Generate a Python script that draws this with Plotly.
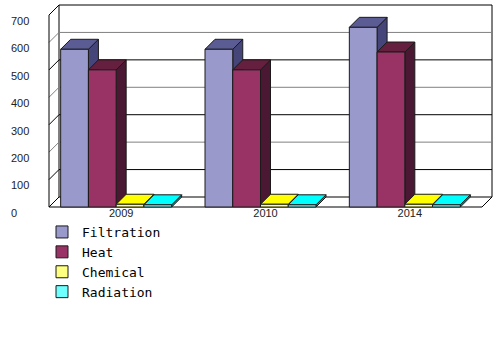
import plotly.graph_objects as go

# ---- data ----
years = ["2009", "2010", "2014"]
series_names = ["Filtration", "Heat", "Chemical", "Radiation"]
filtration = [575, 575, 655]
heat = [500, 500, 565]
chemical = [10, 10, 10]
radiation = [8, 8, 8]
y_ticks = [0, 100, 200, 300, 400, 500, 600, 700]

values = [filtration, heat, chemical, radiation]
front_colors = ["#9999cc", "#993366", "#ffff80", "#70ffff"]
top_colors = ["#5c5c94", "#66203f", "#ffff00", "#00ffff"]
side_colors = ["#45457a", "#4a1832", "#9a9a00", "#009a9a"]
edge = "#1a1a1a"

# ---- geometry (pixel mapping) ----
W, H = 500, 344
x0_px, x3_px = 49, 482          # front floor line left/right
y0_px = 207                      # front value 0
K = (x3_px - x0_px) / len(years)  # px per category
S = 192 / 700                    # px per value unit
dx = 10 / K                      # depth offset (x, category units)
dy = 10 / S                      # depth offset (y, value units)
ymax = max(y_ticks)
n = len(years)

xr = [-x0_px / K, (W - x0_px) / K]
yr = [(y0_px - H) / S, y0_px / S]

fig = go.Figure()

# frame (walls, floor, gridlines)
shapes = []
line_blk = dict(color="#000000", width=1)
shapes.append(dict(type="rect", xref="x", yref="y", x0=dx, x1=n + dx, y0=dy, y1=ymax + dy,
                   line=line_blk, fillcolor="white", layer="below"))
for k, v in enumerate(y_ticks[1:-1]):
    col = "#000000" if k % 2 == 0 else "#808080"
    shapes.append(dict(type="line", xref="x", yref="y", x0=dx, x1=n + dx, y0=v + dy, y1=v + dy,
                       line=dict(color=col, width=1), layer="below"))
    shapes.append(dict(type="line", xref="x", yref="y", x0=0, x1=dx, y0=v, y1=v + dy,
                       line=dict(color=col, width=1), layer="below"))
shapes.append(dict(type="line", xref="x", yref="y", x0=0, x1=0, y0=0, y1=ymax, line=line_blk, layer="below"))
shapes.append(dict(type="line", xref="x", yref="y", x0=0, x1=dx, y0=ymax, y1=ymax + dy, line=line_blk, layer="below"))
shapes.append(dict(type="line", xref="x", yref="y", x0=0, x1=dx, y0=0, y1=dy, line=line_blk, layer="below"))
shapes.append(dict(type="line", xref="x", yref="y", x0=0, x1=n, y0=0, y1=0, line=line_blk, layer="below"))
shapes.append(dict(type="line", xref="x", yref="y", x0=n, x1=n + dx, y0=0, y1=dy, line=line_blk, layer="below"))

# bars
nser = len(series_names)
group_w = 0.769
bw = group_w / nser
centers = [i + 0.5 - dx / 2 for i in range(n)]

for j, (name, vals) in enumerate(zip(series_names, values)):
    for i, v in enumerate(vals):
        xl = centers[i] - group_w / 2 + j * bw
        xrr = xl + bw
        # side face
        fig.add_trace(go.Scatter(
            x=[xrr, xrr, xrr + dx, xrr + dx, xrr], y=[0, v, v + dy, dy, 0],
            mode="lines", fill="toself", fillcolor=side_colors[j],
            line=dict(color=edge, width=1), showlegend=False, hoverinfo="skip", zorder=2 * j))
        # top face
        fig.add_trace(go.Scatter(
            x=[xl, xl + dx, xrr + dx, xrr, xl], y=[v, v + dy, v + dy, v, v],
            mode="lines", fill="toself", fillcolor=top_colors[j],
            line=dict(color=edge, width=1), showlegend=False, hoverinfo="skip", zorder=2 * j))
    fig.add_trace(go.Bar(
        x=centers, y=vals, name=name, width=bw, offset=-group_w / 2 + j * bw,
        marker=dict(color=front_colors[j], line=dict(color=edge, width=1)),
        zorder=2 * j + 1))

fig.update_layout(
    width=W, height=H,
    margin=dict(l=0, r=0, t=0, b=0),
    paper_bgcolor="white", plot_bgcolor="white",
    barmode="overlay",
    shapes=shapes,
    showlegend=True,
    legend=dict(x=0.084, y=1 - 217 / H, xanchor="left", yanchor="top",
                font=dict(family="DejaVu Sans Mono", size=13, color="#000000"),
                bgcolor="rgba(0,0,0,0)", tracegroupgap=0),
    xaxis=dict(range=xr, showgrid=False, zeroline=False, showline=False,
               tickmode="array", tickvals=[i + 0.5 for i in range(n)], ticktext=years,
               anchor="free", position=1 - y0_px / H, ticks="", ticklabelstandoff=-2,
               tickfont=dict(family="Liberation Sans", size=11, color="#222222")),
    yaxis=dict(range=yr, showgrid=False, zeroline=False, showline=False,
               tickmode="array", tickvals=y_ticks, ticktext=[str(t) for t in y_ticks],
               ticklabelposition="inside", ticks="", ticklabelstandoff=8, ticklabelshift=6,
               tickfont=dict(family="Liberation Sans", size=11, color="#222222")),
)

fig.write_html("out.html")
